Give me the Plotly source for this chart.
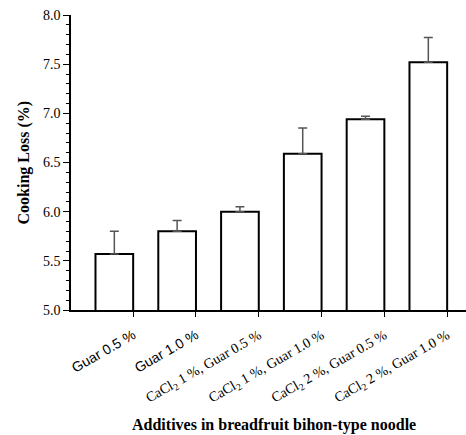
import plotly.graph_objects as go

labels = [
    '<span style="font-family:Liberation Sans, Arial, sans-serif">Guar 0.5 %</span>',
    '<span style="font-family:Liberation Sans, Arial, sans-serif">Guar 1.0 %</span>',
    "CaCl<sub>2</sub> 1 %, Guar 0.5 %",
    "CaCl<sub>2</sub> 1 %, Guar 1.0 %",
    "CaCl<sub>2</sub> 2 %, Guar 0.5 %",
    "CaCl<sub>2</sub> 2 %, Guar 1.0 %",
]
cooking_loss = [5.57, 5.80, 6.00, 6.59, 6.94, 7.52]
errors = [0.23, 0.11, 0.05, 0.26, 0.03, 0.25]

positions = list(range(len(cooking_loss)))
bar_width = 0.6
tick_positions = [p + bar_width / 2 for p in positions]

fig = go.Figure()
fig.add_trace(go.Bar(
    x=positions,
    y=cooking_loss,
    width=bar_width,
    marker=dict(color="white", line=dict(color="black", width=2)),
    error_y=dict(type="data", symmetric=False, array=errors,
                 arrayminus=[0] * len(errors),
                 color="#555555", thickness=1.5, width=4.5),
    showlegend=False,
    hoverinfo="skip",
))

serif = "Liberation Serif, Times New Roman, serif"

fig.update_layout(
    width=466, height=435,
    margin=dict(l=71, r=0, t=15, b=125, autoexpand=False),
    plot_bgcolor="white", paper_bgcolor="white",
    font=dict(family=serif, color="black", size=14),
    xaxis=dict(
        range=[-0.69, 5.6],
        tickvals=tick_positions,
        ticktext=labels,
        tickangle=-30,
        automargin=False,
        ticklabeloverflow="allow",
        ticks="outside", ticklen=5, tickcolor="black", tickwidth=1,
        ticklabelstandoff=5,
        showline=True, linecolor="black", linewidth=1.5,
        showgrid=False, zeroline=False,
        tickfont=dict(family=serif, size=14, color="black"),
    ),
    yaxis=dict(
        range=[5, 8],
        dtick=0.5, tick0=5,
        tickformat=".1f",
        automargin=False,
        ticklabeloverflow="allow",
        ticks="outside", ticklen=6, tickcolor="black", tickwidth=1,
        minor=dict(dtick=0.1, ticks="outside", ticklen=3, tickcolor="black", tickwidth=1),
        showline=True, linecolor="black", linewidth=1.5,
        showgrid=False, zeroline=False,
        tickfont=dict(family=serif, size=14, color="black"),
    ),
    annotations=[
        dict(text="<b>Cooking Loss (%)</b>", xref="paper", yref="paper",
             x=0, y=0.5, xshift=-48, textangle=-90, showarrow=False,
             font=dict(family=serif, size=16, color="black"),
             xanchor="center", yanchor="middle"),
        dict(text="<b>Additives in breadfruit bihon-type noodle</b>", xref="paper", yref="paper",
             x=0.513, y=0, yshift=-115, showarrow=False,
             font=dict(family=serif, size=16, color="black"),
             xanchor="center", yanchor="middle"),
    ],
)

fig.write_html(
    "out.html",
    config={"displayModeBar": False},
    post_script="document.body.style.margin='0';document.body.style.overflow='hidden';",
)
